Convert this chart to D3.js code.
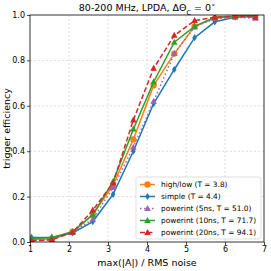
<!DOCTYPE html>
<html>
<head>
<meta charset="utf-8">
<script src="https://cdn.jsdelivr.net/npm/d3@7"></script>
<style>
  body { margin: 0; background: #fff; }
  text { font-family: "DejaVu Sans", sans-serif; }
  .grid line { stroke: #c8c8c8; stroke-dasharray: 2,2; stroke-width: 0.6; }
</style>
</head>
<body>
<svg id="chart"></svg>
<script>
// amplitude bins (x) and trigger efficiency per trigger type
const xBins = [1.04, 1.56, 2.09, 2.61, 3.13, 3.65, 4.17, 4.70, 5.22, 5.74, 6.26, 6.78];
const highLow = [0.010, 0.015, 0.045, 0.120, 0.250, 0.452, 0.690, 0.830, 0.950, 0.985, 0.995, 1.000];
const simple = [0.020, 0.020, 0.040, 0.090, 0.210, 0.400, 0.610, 0.760, 0.900, 0.970, 0.990, 0.995];
const power5 = [0.010, 0.010, 0.045, 0.100, 0.240, 0.417, 0.620, 0.830, 0.947, 0.985, 0.990, 0.985];
const power10 = [0.015, 0.020, 0.045, 0.120, 0.266, 0.497, 0.705, 0.880, 0.950, 0.990, 0.995, 1.000];
const power20 = [0.005, 0.010, 0.042, 0.140, 0.260, 0.537, 0.765, 0.910, 0.975, 0.990, 0.995, 0.990];

const xTicks = [1, 2, 3, 4, 5, 6, 7];
const yTicks = [0, 0.2, 0.4, 0.6, 0.8, 1.0];

const series = [
  { label: 'high/low (T = 3.8)', values: highLow, color: '#ff7f0e', marker: 'circle', dash: null },
  { label: 'simple (T = 4.4)', values: simple, color: '#1f77b4', marker: 'diamond', dash: null },
  { label: 'powerint (5ns, T = 51.0)', values: power5, color: '#9467bd', marker: 'triangle', dash: '1.5,2.5' },
  { label: 'powerint (10ns, T = 71.7)', values: power10, color: '#2ca02c', marker: 'triangle', dash: null },
  { label: 'powerint (20ns, T = 94.1)', values: power20, color: '#d62728', marker: 'triangle', dash: '5,2.5' }
];

const W = 271, H = 271;
const margin = { top: 15, right: 7, bottom: 29, left: 30 };
const width = W - margin.left - margin.right;
const height = H - margin.top - margin.bottom;

const svg = d3.select('#chart').attr('width', W).attr('height', H);
const chart = svg.append('g').attr('transform', `translate(${margin.left},${margin.top})`);

const x = d3.scaleLinear().domain([1, 7]).range([0, width]);
const y = d3.scaleLinear().domain([0, 1]).range([height, 0]);

// grid lines
const grid = chart.append('g').attr('class', 'grid');
grid.selectAll('.gx').data(xTicks.slice(1, -1)).enter().append('line')
    .attr('x1', d => x(d)).attr('x2', d => x(d)).attr('y1', 0).attr('y2', height);
grid.selectAll('.gy').data(yTicks.slice(1, -1)).enter().append('line')
    .attr('x1', 0).attr('x2', width).attr('y1', d => y(d)).attr('y2', d => y(d));

// axes
const xAxis = chart.append('g').attr('transform', `translate(0,${height})`)
    .call(d3.axisBottom(x).tickValues(xTicks).tickFormat(d3.format('d')).tickSize(3).tickPadding(1.5));
const yAxis = chart.append('g')
    .call(d3.axisLeft(y).tickValues(yTicks).tickFormat(d3.format('.1f')).tickSize(3).tickPadding(2));
[xAxis, yAxis].forEach(a => {
  a.select('.domain').remove();
  a.selectAll('text').style('font-size', '8px').attr('fill', '#000');
  a.selectAll('line').attr('stroke', '#000').attr('stroke-width', 0.7);
});

// clip so markers near 1.0 get cut like matplotlib
svg.append('clipPath').attr('id', 'clip').append('rect')
    .attr('x', 0).attr('y', 0).attr('width', width).attr('height', height);

function drawMarker(sel, s) {
  if (s.marker === 'diamond') {
    // thin diamond
    sel.append('path').attr('d', 'M0,-3.6L2.3,0L0,3.6L-2.3,0Z');
  } else if (s.marker === 'triangle') {
    sel.append('path').attr('d', 'M0,-3.6L3.3,2.4L-3.3,2.4Z');
  } else {
    sel.append('path').attr('d', d3.symbol().type(d3.symbolCircle).size(32)());
  }
}

const plot = chart.append('g').attr('clip-path', 'url(#clip)');
const line = d3.line().x((d, i) => x(xBins[i])).y(d => y(d));

series.forEach(s => {
  const g = plot.append('g');
  g.append('path')
      .datum(s.values)
      .attr('d', line)
      .attr('fill', 'none')
      .attr('stroke', s.color)
      .attr('stroke-width', 1.5)
      .attr('stroke-dasharray', s.dash);
  g.selectAll('.m').data(s.values).enter().append('g')
      .attr('transform', (d, i) => `translate(${x(xBins[i])},${y(d)})`)
      .attr('fill', s.color)
      .each(function() { drawMarker(d3.select(this), s); });
});

// frame
chart.append('rect').attr('width', width).attr('height', height)
    .attr('fill', 'none').attr('stroke', '#000').attr('stroke-width', 0.8);

// legend
const legend = chart.append('g').attr('transform', `translate(${width - 128},${height - 65})`);
legend.append('rect').attr('width', 125).attr('height', 62).attr('rx', 2)
    .attr('fill', 'rgba(255,255,255,0.8)').attr('stroke', '#d0d0d0').attr('stroke-width', 0.7);
series.forEach((s, i) => {
  const row = legend.append('g').attr('transform', `translate(4,${7.5 + i * 12})`);
  row.append('line').attr('x1', 0).attr('x2', 15).attr('y1', 0).attr('y2', 0)
      .attr('stroke', s.color).attr('stroke-width', 1.5).attr('stroke-dasharray', s.dash);
  const mk = row.append('g').attr('transform', 'translate(7.5,0)').attr('fill', s.color);
  drawMarker(mk, s);
  row.append('text').attr('x', 21).attr('y', 0).attr('dy', '0.35em')
      .style('font-size', '7.4px').text(s.label);
});

// title
const title = svg.append('text').attr('x', margin.left + width / 2).attr('y', 11)
    .attr('text-anchor', 'middle').style('font-size', '9.5px');
title.append('tspan').text('80-200 MHz, LPDA, ΔΘ');
title.append('tspan').attr('baseline-shift', 'sub').style('font-size', '6.5px').text('C');
title.append('tspan').text(' = 0');
title.append('tspan').attr('baseline-shift', 'super').style('font-size', '6.5px').text('∘');

// axis labels
svg.append('text').attr('x', margin.left + width / 2).attr('y', 266)
    .attr('text-anchor', 'middle').style('font-size', '9.5px').text('max(|A|) / RMS noise');
svg.append('text').attr('transform', `translate(10,${margin.top + height / 2}) rotate(-90)`)
    .attr('text-anchor', 'middle').style('font-size', '9.5px').text('trigger efficiency');
</script>
</body>
</html>
